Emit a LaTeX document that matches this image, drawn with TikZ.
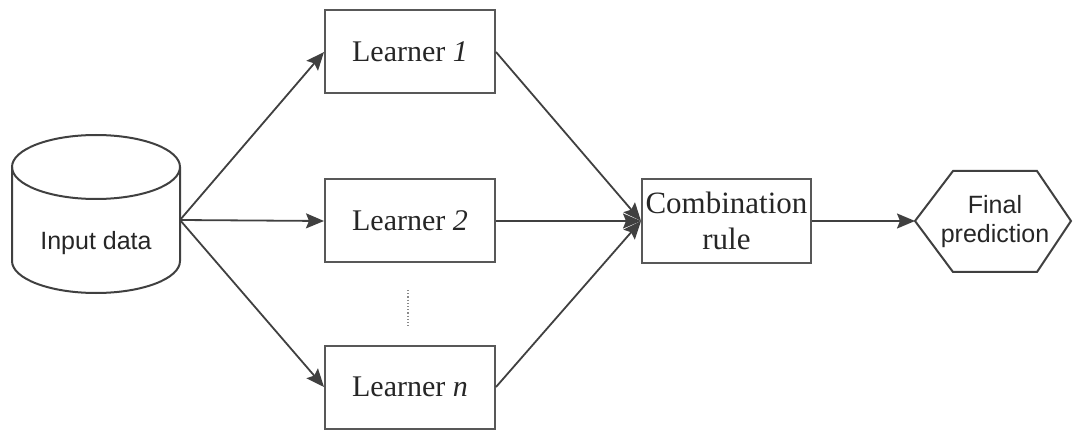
\documentclass[tikz,border=0pt]{standalone}
\usepackage{fontspec}
\setmainfont{Liberation Serif}
\newfontfamily\sansf{Liberation Sans}
\usetikzlibrary{arrows.meta}
\definecolor{lin}{HTML}{404040}
\definecolor{brd}{HTML}{585858}
\definecolor{txt}{HTML}{262626}
\tikzset{
  learnbox/.style={draw=brd, line width=2pt, minimum width=170pt, minimum height=83pt, inner sep=0pt,
    font=\fontsize{30}{36}\selectfont, text=txt, align=center},
  conn/.style={draw=lin, line width=1.8pt, -{Stealth[length=18pt,width=15pt,inset=3pt]}},
  shapeline/.style={draw=lin, line width=2pt},
  sanslabel/.style={font=\sansf\fontsize{25}{29}\selectfont, text=txt, align=center, inner sep=0pt}
}
\begin{document}
\begin{tikzpicture}[x=1pt,y=1pt]
\useasboundingbox (0,0) rectangle (1073,-430);
% cylinder
\draw[shapeline] (96,-167) ellipse [x radius=84, y radius=32];
\draw[shapeline] (12,-167) -- (12,-261) arc[start angle=180, end angle=360, x radius=84, y radius=32] -- (180,-167);
\node[sanslabel] (inp) at (96,-243) {Input data};
\coordinate (src) at (180,-220);
% learners
\node[learnbox] (l1) at (410,-52) {Learner \textit{1}};
\node[learnbox] (l2) at (410,-221) {Learner \textit{2}};
\node[learnbox] (ln) at (410,-387) {Learner \textit{n}};
\coordinate (d1) at (408,-290);
\coordinate (d2) at (408,-327);
\draw[draw=brd!70, line width=1.2pt, dotted] (d1) -- (d2);
% combination
\node[learnbox, minimum width=169pt, minimum height=84pt, font=\fontsize{31}{36}\selectfont] (comb) at (726.5,-221) {Combination\\rule};
% hexagon
\coordinate (hw) at (915,-221);
\coordinate (htl) at (953,-171);
\coordinate (htr) at (1037,-171);
\coordinate (he) at (1071,-221);
\coordinate (hbr) at (1037,-272);
\coordinate (hbl) at (953,-272);
\draw[shapeline] (hw) -- (htl) -- (htr) -- (he) -- (hbr) -- (hbl) -- cycle;
\node[sanslabel] (fp) at (995,-222) {Final\\prediction};
% connectors
\draw[conn] (src) -- (l1.west);
\draw[conn] (src) -- (l2.west);
\draw[conn] (src) -- (ln.west);
\draw[conn] (l1.east) -- (comb.west);
\draw[conn] (l2.east) -- (comb.west);
\draw[conn] (ln.east) -- (comb.west);
\draw[conn] (comb.east) -- (hw);
\end{tikzpicture}
\end{document}
